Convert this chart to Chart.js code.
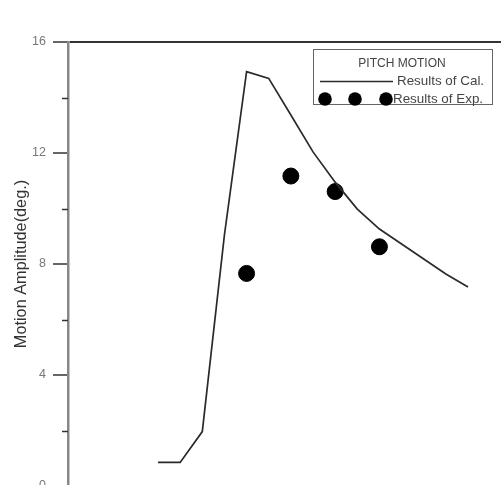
<!DOCTYPE html>
<html>
<head>
<meta charset="utf-8">
<script src="https://cdn.jsdelivr.net/npm/chart.js@4/dist/chart.umd.min.js"></script>
<style>
  html, body { margin: 0; padding: 0; background: #fff; overflow: hidden; }
  #wrap { width: 501px; height: 485px; overflow: hidden; position: relative; }
  canvas { display: block; }
</style>
</head>
<body>
<div id="wrap"><canvas id="c" width="501" height="560"></canvas></div>
<script>
// ---- data ----
const legendTitle = "PITCH MOTION";
const calLabel = "Results of Cal.";
const expLabel = "Results of Exp.";
const yTitle = "Motion Amplitude(deg.)";

const calX = [1, 2, 3, 4, 5, 6, 7, 8, 9, 10, 11, 12, 13, 14, 15];
const calY = [0.85, 0.85, 1.96, 9.05, 14.93, 14.69, 13.37, 12.04, 10.95, 9.98, 9.26, 8.72, 8.18, 7.64, 7.17];

const expX = [5, 7, 9, 11];
const expY = [7.66, 11.17, 10.61, 8.62];

const yTicksMajor = [0, 4, 8, 12, 16];

const FONT = "'Liberation Sans', Arial, sans-serif";

const minorTicks = {
  id: 'minorTicks',
  afterDatasetsDraw(chart) {
    const s = chart.scales.y;
    const ctx = chart.ctx;
    ctx.save();
    ctx.strokeStyle = '#333';
    ctx.lineWidth = 1.5;
    s.ticks.forEach(t => {
      if (yTicksMajor.includes(t.value)) return;
      const py = Math.round(s.getPixelForValue(t.value)) + 0.5;
      ctx.beginPath();
      ctx.moveTo(s.right - 6, py);
      ctx.lineTo(s.right, py);
      ctx.stroke();
    });
    ctx.restore();
  }
};

const boxLegend = {
  id: 'boxLegend',
  afterDraw(chart) {
    const ctx = chart.ctx;
    const dsL = chart.data.datasets[0];
    const dsP = chart.data.datasets[1];
    const bx = 313, by = 49, bw = 179, bh = 55;
    ctx.save();
    ctx.fillStyle = '#fff';
    ctx.fillRect(bx, by, bw, bh);
    ctx.strokeStyle = '#666';
    ctx.lineWidth = 1;
    ctx.strokeRect(bx + 0.5, by + 0.5, bw, bh);
    ctx.fillStyle = '#444';
    ctx.textBaseline = 'middle';
    ctx.font = '12px ' + FONT;
    ctx.textAlign = 'center';
    ctx.fillText(legendTitle, 402, 64);
    ctx.textAlign = 'left';
    ctx.font = '13.4px ' + FONT;
    // line sample
    ctx.strokeStyle = dsL.borderColor;
    ctx.lineWidth = dsL.borderWidth;
    ctx.beginPath();
    ctx.moveTo(320, 81.5);
    ctx.lineTo(393, 81.5);
    ctx.stroke();
    ctx.fillText(dsL.label, 397, 81.5);
    // point samples
    ctx.fillStyle = dsP.backgroundColor;
    [325, 355, 386].forEach(px => {
      ctx.beginPath();
      ctx.arc(px, 99, 6.8, 0, Math.PI * 2);
      ctx.fill();
    });
    ctx.fillStyle = '#444';
    ctx.fillText(dsP.label, 393, 99);
    ctx.restore();
  }
};

new Chart(document.getElementById('c'), {
  type: 'scatter',
  data: {
    datasets: [
      {
        label: calLabel,
        data: calX.map((x, i) => ({ x: x, y: calY[i] })),
        showLine: true,
        borderColor: '#2a2a2a',
        borderWidth: 1.7,
        pointRadius: 0,
        pointHoverRadius: 0,
        tension: 0
      },
      {
        label: expLabel,
        data: expX.map((x, i) => ({ x: x, y: expY[i] })),
        showLine: false,
        backgroundColor: '#000',
        borderColor: '#000',
        pointRadius: 8,
        pointHoverRadius: 8
      }
    ]
  },
  options: {
    responsive: false,
    animation: false,
    events: [],
    layout: { autoPadding: false, padding: { top: 42, right: 0, bottom: 74, left: 0 } },
    plugins: { legend: { display: false }, tooltip: { enabled: false } },
    scales: {
      x: {
        type: 'linear',
        display: false,
        min: -3.065,
        max: 16.49
      },
      y: {
        min: 0,
        max: 16,
        afterFit(s) { s.width = 68; },
        border: { display: true, color: '#888', width: 2.5 },
        grid: {
          drawOnChartArea: true,
          color: c => (c.tick && c.tick.value === 16) ? '#333' : 'rgba(0,0,0,0)',
          lineWidth: 2,
          tickLength: 15,
          tickColor: c => (c.tick && yTicksMajor.includes(c.tick.value)) ? '#333' : 'rgba(0,0,0,0)',
          tickWidth: 1.5
        },
        ticks: {
          stepSize: 2,
          padding: 7,
          color: '#777',
          font: { family: FONT, size: 12.5 },
          callback: v => yTicksMajor.includes(v) ? String(v) : ''
        },
        title: {
          display: true,
          text: yTitle,
          color: '#333',
          font: { family: FONT, size: 16.3 },
          padding: { top: 12, bottom: 0 }
        }
      }
    }
  },
  plugins: [minorTicks, boxLegend]
});
</script>
</body>
</html>
